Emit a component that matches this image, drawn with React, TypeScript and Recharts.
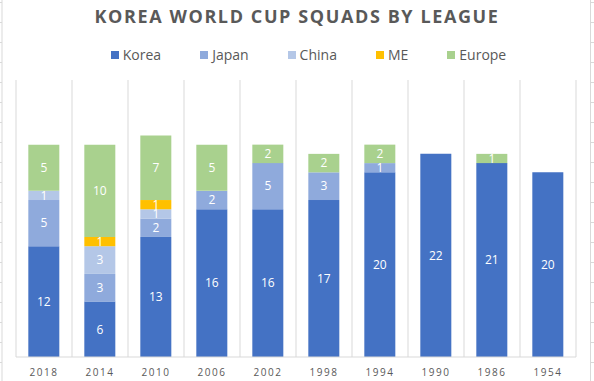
import { BarChart, Bar, XAxis, YAxis, CartesianGrid, Legend, LabelList } from "recharts";

const years = ["2018", "2014", "2010", "2006", "2002", "1998", "1994", "1990", "1986", "1954"];
const korea = [12, 6, 13, 16, 16, 17, 20, 22, 21, 20];
const japan = [5, 3, 2, 2, 5, 3, 1, null, null, null];
const china = [1, 3, 1, null, null, null, null, null, null, null];
const me = [null, 1, 1, null, null, null, null, null, null, null];
const europe = [5, 10, 7, 5, 2, 2, 2, null, 1, null];

const series = [
  { key: "Korea", vals: korea, color: "#4472C4" },
  { key: "Japan", vals: japan, color: "#8FAADC" },
  { key: "China", vals: china, color: "#B4C7E7" },
  { key: "ME", vals: me, color: "#FFC000" },
  { key: "Europe", vals: europe, color: "#A9D18E" },
];

const data = years.map((y, i) => {
  const row: any = { year: y };
  series.forEach(s => { row[s.key] = s.vals[i]; });
  return row;
});

const FONT = "'Open Sans', 'Noto Sans', sans-serif";

function LegendBox() {
  return (
    <div style={{ display: "flex", justifyContent: "center", fontFamily: FONT, fontSize: 14, color: "#595959", paddingLeft: 62 }}>
      {series.map(s => (
        <div key={s.key} style={{ display: "flex", alignItems: "center", marginRight: 39 }}>
          <span style={{ width: 8, height: 8, background: s.color, marginRight: 4, display: "inline-block" }} />
          {s.key}
        </div>
      ))}
    </div>
  );
}

function SheetEdges() {
  const ys = Array.from({ length: 19 }, (_, k) => 2.5 + 20 * k);
  return (
    <svg width={594} height={381} style={{ position: "absolute", left: 0, top: 0 }}>
      <line x1={2} y1={0} x2={2} y2={381} stroke="#d9d9d9" />
      <line x1={590.5} y1={0} x2={590.5} y2={381} stroke="#d9d9d9" />
      {ys.map(y => (
        <g key={y}>
          <line x1={0} y1={y} x2={2} y2={y} stroke="#d9d9d9" />
          <line x1={591} y1={y} x2={594} y2={y} stroke="#d9d9d9" />
        </g>
      ))}
    </svg>
  );
}

export default function App() {
  return (
    <div style={{ position: "absolute", left: 0, top: 0, width: 594, height: 381, background: "#fff" }}>
      <SheetEdges />
      <div style={{ position: "absolute", top: 4, left: 0, width: 594, textAlign: "center", fontFamily: FONT, fontWeight: 700, fontSize: 18, letterSpacing: 1.6, color: "#595959" }}>
        KOREA WORLD CUP SQUADS BY LEAGUE
      </div>
      <BarChart width={594} height={381} data={data} margin={{ top: 80, right: 18, bottom: 0, left: 16 }} barCategoryGap="22%" style={{ position: "absolute", left: 0, top: 0 }}>
        <CartesianGrid
          horizontal={false}
          stroke="#d9d9d9"
          verticalCoordinatesGenerator={({ offset }: any) =>
            years.map((_, i) => offset.left + (i * offset.width) / years.length).concat(offset.left + offset.width)
          }
        />
        <XAxis
          dataKey="year"
          height={24}
          tickLine={false}
          axisLine={{ stroke: "#d9d9d9" }}
          tickMargin={6}
          tick={{ fill: "#595959", fontSize: 10, fontFamily: FONT, letterSpacing: 1.5 }}
        />
        <YAxis hide domain={[0, 30]} />
        <Legend verticalAlign="middle" align="center" wrapperStyle={{ top: 45, left: 0, width: 594 }} content={() => <LegendBox />} />
        {series.map(s => (
          <Bar key={s.key} dataKey={s.key} stackId="a" fill={s.color} isAnimationActive={false}>
            <LabelList dataKey={s.key} position="center" fill="#fff" fontSize={12} fontFamily={FONT} />
          </Bar>
        ))}
      </BarChart>
    </div>
  );
}
